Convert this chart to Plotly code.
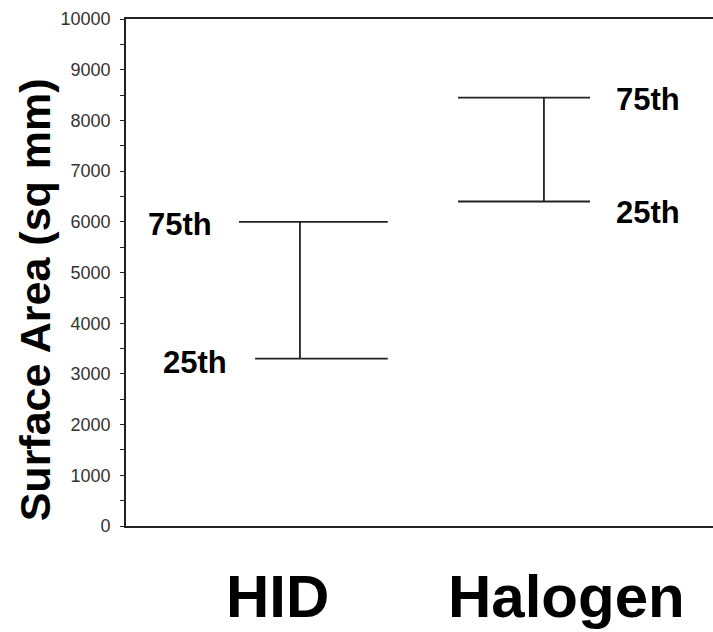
import plotly.graph_objects as go

# ---- data ----
categories = ["HID", "Halogen"]
p25 = [3300, 6400]
p75 = [6000, 8450]
pct_labels = ["25th", "75th"]
y_tick_vals = [0, 1000, 2000, 3000, 4000, 5000, 6000, 7000, 8000, 9000, 10000]

# ---- style / layout constants ----
W, H = 713, 632
ML, MR, MT, MB = 126, 0, 19, 106
line_color = "#222222"
FONT = "Liberation Sans, Arial, Helvetica, sans-serif"
cat_pos = [1, 2]
# cap extents (offset from category centre, in x units) for [25th, 75th]
cap_left = [[-0.184, -0.25], [-0.352, -0.352]]
cap_right = [[0.36, 0.36], [0.189, 0.189]]

fig = go.Figure()

for i, cat in enumerate(categories):
    xc = cat_pos[i]
    xs, ys = [], []
    # vertical
    xs += [xc, xc, None]
    ys += [p25[i], p75[i], None]
    # caps
    for j, val in enumerate([p25[i], p75[i]]):
        xs += [xc + cap_left[i][j], xc + cap_right[i][j], None]
        ys += [val, val, None]
    fig.add_trace(go.Scatter(x=xs, y=ys, mode="lines",
                             line=dict(color=line_color, width=1.8),
                             showlegend=False, hoverinfo="skip"))

# percentile labels
lab_font = dict(family=FONT, size=31, color="black")
# HID labels on left
hid_anchor_x = [0.709, 0.648]
hid_shift = [-4, -3]
for j, val in enumerate([p25[0], p75[0]]):
    fig.add_annotation(x=hid_anchor_x[j], y=val, xref="x", yref="y",
                       text="<b>%s</b>" % pct_labels[j], showarrow=False,
                       xanchor="right", yanchor="middle", yshift=hid_shift[j],
                       font=lab_font)
# Halogen labels on right
hal_shift = [-11, -2]
for j, val in enumerate([p25[1], p75[1]]):
    fig.add_annotation(x=2.287, y=val, xref="x", yref="y",
                       text="<b>%s</b>" % pct_labels[j], showarrow=False,
                       xanchor="left", yanchor="middle", yshift=hal_shift[j],
                       font=lab_font)

# category labels
cat_label_x = [0.906, 2.094]
for i, cat in enumerate(categories):
    fig.add_annotation(x=cat_label_x[i], y=-0.14, xref="x", yref="paper",
                       text="<b>%s</b>" % cat, showarrow=False,
                       xanchor="center", yanchor="middle",
                       font=dict(family=FONT, size=60, color="black"))

# y-axis title
fig.add_annotation(x=-0.156, y=0.446, xref="paper", yref="paper",
                   text="<b>Surface Area (sq mm)</b>", showarrow=False,
                   textangle=-90, xanchor="center", yanchor="middle",
                   font=dict(family=FONT, size=43, color="black"))

fig.update_layout(
    width=W, height=H,
    margin=dict(l=ML, r=MR, t=MT, b=MB),
    paper_bgcolor="white", plot_bgcolor="white",
    showlegend=False,
)
fig.update_xaxes(range=[0.287, 2.693], showgrid=False, zeroline=False,
                 showticklabels=False, ticks="",
                 showline=True, mirror=True, linecolor=line_color, linewidth=1.8)
fig.update_yaxes(range=[0, 10000], showgrid=False, zeroline=False,
                 tickvals=y_tick_vals, ticktext=[str(v) for v in y_tick_vals],
                 ticks="outside", ticklen=4, tickwidth=1.2, tickcolor=line_color,
                 minor=dict(dtick=500, ticks="outside", ticklen=4, tickwidth=1.2,
                            tickcolor=line_color, showgrid=False),
                 tickfont=dict(family=FONT, size=18, color="#333333"),
                 ticklabelstandoff=6,
                 showline=True, linecolor=line_color, linewidth=1.8)

fig.write_html("out.html")
